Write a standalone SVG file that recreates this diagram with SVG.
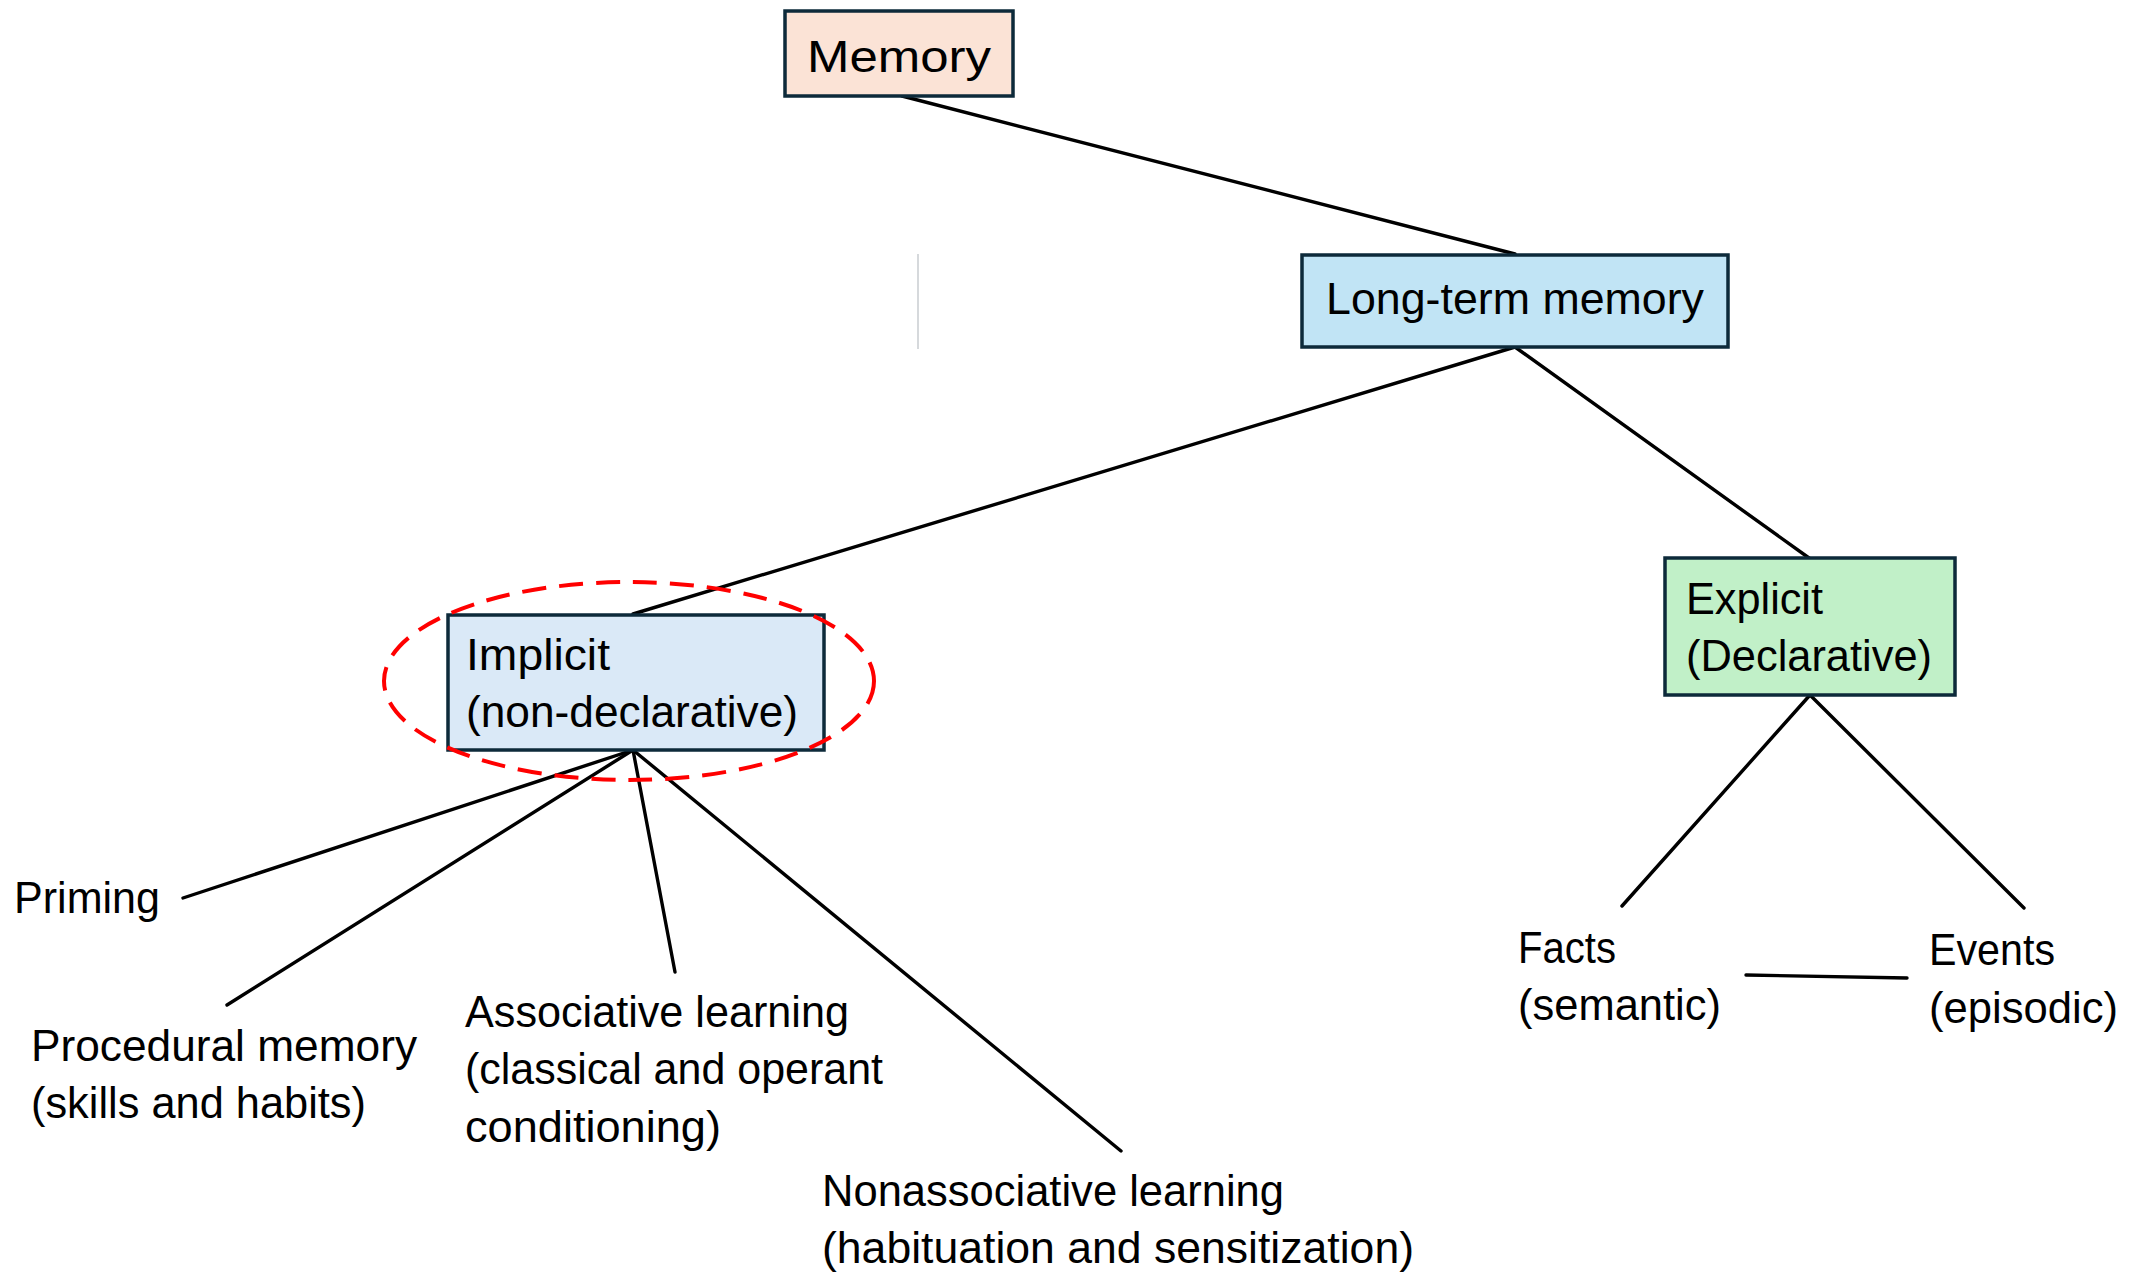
<svg xmlns="http://www.w3.org/2000/svg" width="2144" height="1272" viewBox="0 0 2144 1272">
  <style>
    .box { stroke: #0d2a3a; stroke-width: 3.5; }
    .lbl { font-family: "Liberation Sans", Arial, sans-serif; font-size: 44px; fill: #000; }
    .link { stroke: #000; stroke-width: 3.4; fill: none; stroke-linecap: round; }
  </style>
  <rect width="2144" height="1272" fill="#ffffff"/>

  <!-- thin grey divider -->
  <line x1="918" y1="254" x2="918" y2="349" stroke="#c8cdd1" stroke-width="1.5"/>

  <g id="connectors">
    <line class="link" x1="902" y1="96" x2="1515" y2="254"/>
    <line class="link" x1="1515" y1="347" x2="633" y2="614"/>
    <line class="link" x1="1515" y1="347" x2="1809" y2="558"/>
    <line class="link" x1="633" y1="750" x2="183" y2="898"/>
    <line class="link" x1="633" y1="750" x2="227" y2="1005"/>
    <line class="link" x1="633" y1="750" x2="675" y2="972"/>
    <line class="link" x1="633" y1="750" x2="1121" y2="1151"/>
    <line class="link" x1="1810" y1="695" x2="1622" y2="906"/>
    <line class="link" x1="1810" y1="695" x2="2024" y2="908"/>
    <line class="link" x1="1746" y1="975" x2="1907" y2="978" stroke-width="4.2"/>
  </g>

  <g id="memory">
    <rect class="box" x="785" y="11" width="228" height="85" fill="#fbe3d6"/>
    <text class="lbl" x="807" y="72" font-size="50" textLength="184" lengthAdjust="spacingAndGlyphs">Memory</text>
  </g>

  <g id="long-term">
    <rect class="box" x="1302" y="255" width="426" height="92" fill="#c1e4f5"/>
    <text class="lbl" x="1326" y="314" textLength="378" lengthAdjust="spacingAndGlyphs">Long-term memory</text>
  </g>

  <g id="implicit">
    <rect class="box" x="448" y="615" width="376" height="135" fill="#dae9f7"/>
    <text class="lbl" x="466" y="670" textLength="144" lengthAdjust="spacingAndGlyphs">Implicit</text>
    <text class="lbl" x="466" y="727" textLength="332" lengthAdjust="spacingAndGlyphs">(non-declarative)</text>
    <ellipse cx="629" cy="681" rx="245" ry="99" fill="none" stroke="#ff0000" stroke-width="4" stroke-dasharray="24 13"/>
  </g>

  <g id="explicit">
    <rect class="box" x="1665" y="558" width="290" height="137" fill="#c1f0c8"/>
    <text class="lbl" x="1686" y="614" textLength="137" lengthAdjust="spacingAndGlyphs">Explicit</text>
    <text class="lbl" x="1686" y="671" textLength="246" lengthAdjust="spacingAndGlyphs">(Declarative)</text>
  </g>

  <g id="priming">
    <text class="lbl" x="14" y="913" textLength="146" lengthAdjust="spacingAndGlyphs">Priming</text>
  </g>

  <g id="procedural">
    <text class="lbl" x="31" y="1061" textLength="386" lengthAdjust="spacingAndGlyphs">Procedural memory</text>
    <text class="lbl" x="31" y="1118" textLength="335" lengthAdjust="spacingAndGlyphs">(skills and habits)</text>
  </g>

  <g id="associative">
    <text class="lbl" x="465" y="1027" textLength="384" lengthAdjust="spacingAndGlyphs">Associative learning</text>
    <text class="lbl" x="465" y="1084" textLength="418" lengthAdjust="spacingAndGlyphs">(classical and operant</text>
    <text class="lbl" x="465" y="1142" textLength="256" lengthAdjust="spacingAndGlyphs">conditioning)</text>
  </g>

  <g id="nonassociative">
    <text class="lbl" x="822" y="1206" textLength="462" lengthAdjust="spacingAndGlyphs">Nonassociative learning</text>
    <text class="lbl" x="822" y="1263" textLength="592" lengthAdjust="spacingAndGlyphs">(habituation and sensitization)</text>
  </g>

  <g id="facts">
    <text class="lbl" x="1518" y="963" textLength="98" lengthAdjust="spacingAndGlyphs">Facts</text>
    <text class="lbl" x="1518" y="1020" textLength="203" lengthAdjust="spacingAndGlyphs">(semantic)</text>
  </g>

  <g id="events">
    <text class="lbl" x="1929" y="965" textLength="126" lengthAdjust="spacingAndGlyphs">Events</text>
    <text class="lbl" x="1929" y="1023" textLength="189" lengthAdjust="spacingAndGlyphs">(episodic)</text>
  </g>
</svg>
